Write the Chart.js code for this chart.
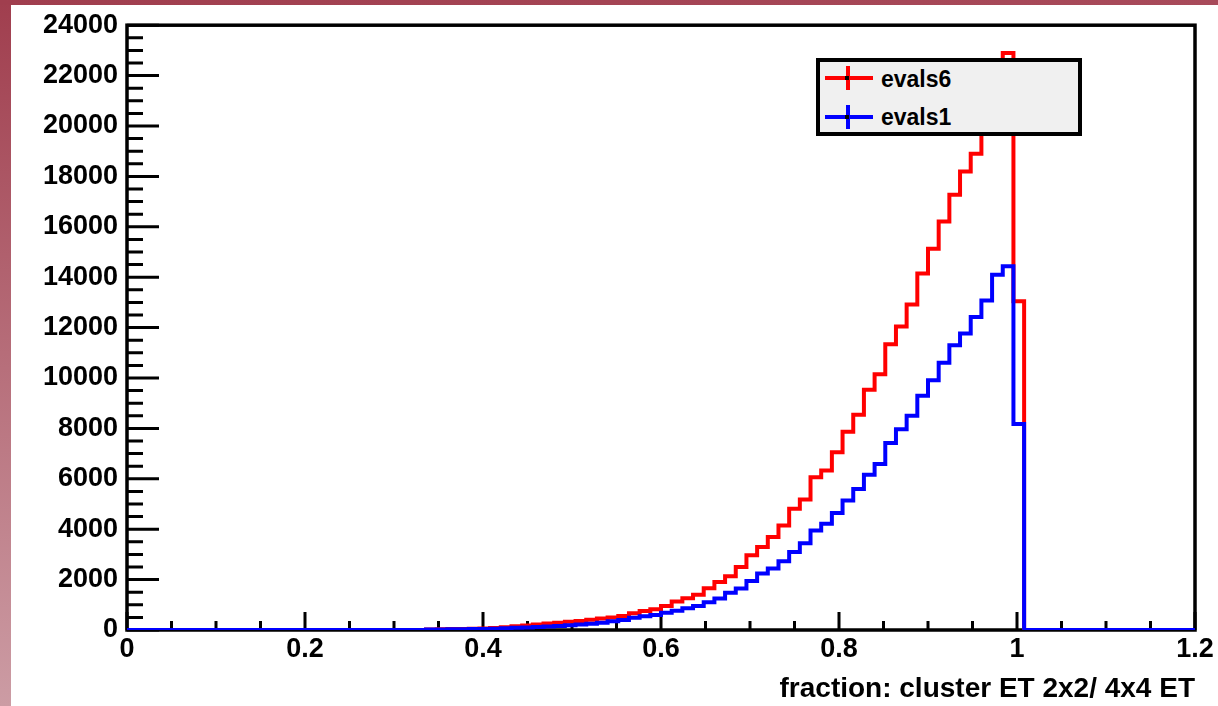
<!DOCTYPE html>
<html><head><meta charset="utf-8">
<script src="https://cdn.jsdelivr.net/npm/chart.js@4.4.1/dist/chart.umd.min.js"></script>
<style>
html,body{margin:0;padding:0;background:#fff;}
#wrap{position:relative;width:1218px;height:706px;overflow:hidden;background:#fff;}
#lstrip{position:absolute;left:0;top:0;width:11px;height:706px;background:linear-gradient(#a03e4e,#cc9ca4);}
#tstrip{position:absolute;left:0;top:0;width:1218px;height:5px;background:linear-gradient(90deg,#a03e4e,#a84a5a);}
canvas{position:absolute;left:0;top:0;}
#legend{position:absolute;left:816px;top:58px;width:266px;height:78px;box-sizing:border-box;border:4px solid #000;background:#f0f0f0;font-family:"Liberation Sans",Arial,Helvetica,sans-serif;font-weight:bold;font-size:23px;color:#000;}
.h{position:absolute;left:5px;width:48px;height:4px;}
.v{position:absolute;left:26px;width:4px;height:24px;}
.dot{position:absolute;left:25px;width:4px;height:4px;background:#000;}
.tx{position:absolute;left:61px;height:26px;line-height:26px;}
</style></head>
<body>
<div id="wrap">
<div id="lstrip"></div><div id="tstrip"></div>
<canvas id="c" width="1218" height="706"></canvas>
<div id="legend">
  <div class="h" style="top:14px;background:#ff0000"></div>
  <div class="v" style="top:4px;background:#ff0000"></div>
  <div class="dot" style="top:14px"></div>
  <div class="tx" style="top:4px">evals6</div>
  <div class="h" style="top:53px;background:#0000ff"></div>
  <div class="v" style="top:43px;background:#0000ff"></div>
  <div class="dot" style="top:53px"></div>
  <div class="tx" style="top:42px">evals1</div>
</div>
</div>
<script>
const FONT = '"Liberation Sans", Arial, Helvetica, sans-serif';
const xMin = 0, xMax = 1.2, binWidth = 0.012;
const yMin = 0, yMax = 24000;
const xTickValues = [0, 0.2, 0.4, 0.6, 0.8, 1.0, 1.2];
const xTickLabels = ['0', '0.2', '0.4', '0.6', '0.8', '1', '1.2'];
const yTickValues = [0,2000,4000,6000,8000,10000,12000,14000,16000,18000,20000,22000,24000];
const yTickLabels = ['0','2000','4000','6000','8000','10000','12000','14000','16000','18000','20000','22000','24000'];
const xTitle = 'fraction: cluster ET 2x2/ 4x4 ET';

// bin contents, 100 bins of width 0.012 from 0 to 1.2
const evals6 = [
  0,0,0,0,0,0,0,0,0,0,
  0,0,0,0,0,0,0,0,0,0,
  0,0,0,0,0,0,0,0,20,30,
  40,40,50,60,80,110,150,180,220,260,
  290,330,360,410,460,500,560,660,750,820,
  950,1130,1260,1400,1660,1900,2130,2500,2970,3290,
  3690,4150,4810,5180,6060,6330,7050,7870,8540,9530,
  10150,11340,12040,12920,14150,15130,16210,17270,18190,18900,
  20100,21300,22900,13050,0,0,0,0,0,0,
  0,0,0,0,0,0,0,0,0,0
];
const evals1 = [
  0,0,0,0,0,0,0,0,0,0,
  0,0,0,0,0,0,0,0,0,0,
  0,0,0,0,0,0,0,0,20,20,
  30,30,40,40,50,70,90,100,120,140,
  160,190,220,250,290,350,400,490,550,600,
  680,760,860,950,1100,1250,1480,1650,1940,2240,
  2440,2730,3100,3440,3950,4220,4640,5140,5600,6160,
  6590,7420,7970,8500,9300,9910,10610,11300,11770,12420,
  13080,14100,14430,8170,0,0,0,0,0,0,
  0,0,0,0,0,0,0,0,0,0
];

function toSteps(vals){
  const pts = vals.map((v,i)=>({x: xMin + i*binWidth, y: v}));
  pts.push({x: xMax, y: vals[vals.length-1]});
  return pts;
}

const frame = {
  id: 'rootFrame',
  beforeDatasetsDraw(chart){
    const {ctx, chartArea: a, scales} = chart;
    const xs = scales.x, ys = scales.y;
    ctx.save();
    ctx.strokeStyle = '#000';
    ctx.lineWidth = 3.5;
    ctx.strokeRect(a.left, a.top, a.right - a.left, a.bottom - a.top);
    ctx.lineWidth = 3;
    ctx.beginPath();
    for (let k = 0; k <= 48; k++) {
      const y = ys.getPixelForValue(k*500);
      const len = (k % 4 === 0) ? 32 : 16;
      ctx.moveTo(a.left, y); ctx.lineTo(a.left + len, y);
    }
    for (let k = 0; k <= 24; k++) {
      const x = xs.getPixelForValue(k*0.05);
      const len = (k % 4 === 0) ? 18 : 9;
      ctx.moveTo(x, a.bottom); ctx.lineTo(x, a.bottom - len);
    }
    ctx.stroke();
    ctx.restore();
  }
};

new Chart(document.getElementById('c'), {
  type: 'line',
  data: {
    datasets: [
      {label:'evals1', data: toSteps(evals1), borderColor:'#0000ff', borderWidth:4, pointRadius:0, stepped:true, fill:false, borderJoinStyle:'miter', borderCapStyle:'butt'},
      {label:'evals6', data: toSteps(evals6), borderColor:'#ff0000', borderWidth:4, pointRadius:0, stepped:true, fill:false, borderJoinStyle:'miter', borderCapStyle:'butt'}
    ]
  },
  options: {
    responsive:false, animation:false, devicePixelRatio:1,
    layout:{padding:{top:23,right:23,left:0,bottom:0}},
    plugins:{legend:{display:false}, tooltip:{enabled:false}},
    scales:{
      x:{type:'linear', min:xMin, max:xMax,
        afterBuildTicks(s){ s.ticks = xTickValues.map(v=>({value:v})); },
        afterFit(s){ s.height = 76; },
        grid:{display:false, drawTicks:false}, border:{display:false},
        ticks:{callback:(v,i)=>xTickLabels[i], color:'#000', font:{family:FONT,size:27,weight:'bold'}, padding:3, maxRotation:0, autoSkip:false},
        title:{display:true, text:xTitle, align:'end', color:'#000', font:{family:FONT,size:28,weight:'bold'}, padding:{top:0,bottom:0}}
      },
      y:{type:'linear', min:yMin, max:yMax,
        afterBuildTicks(s){ s.ticks = yTickValues.map(v=>({value:v})); },
        afterFit(s){ s.width = 127; },
        grid:{display:false, drawTicks:false}, border:{display:false},
        ticks:{callback:(v,i)=>yTickLabels[i], color:'#000', font:{family:FONT,size:27,weight:'bold'}, padding:9, autoSkip:false}
      }
    }
  },
  plugins:[frame]
});
</script>
</body></html>
